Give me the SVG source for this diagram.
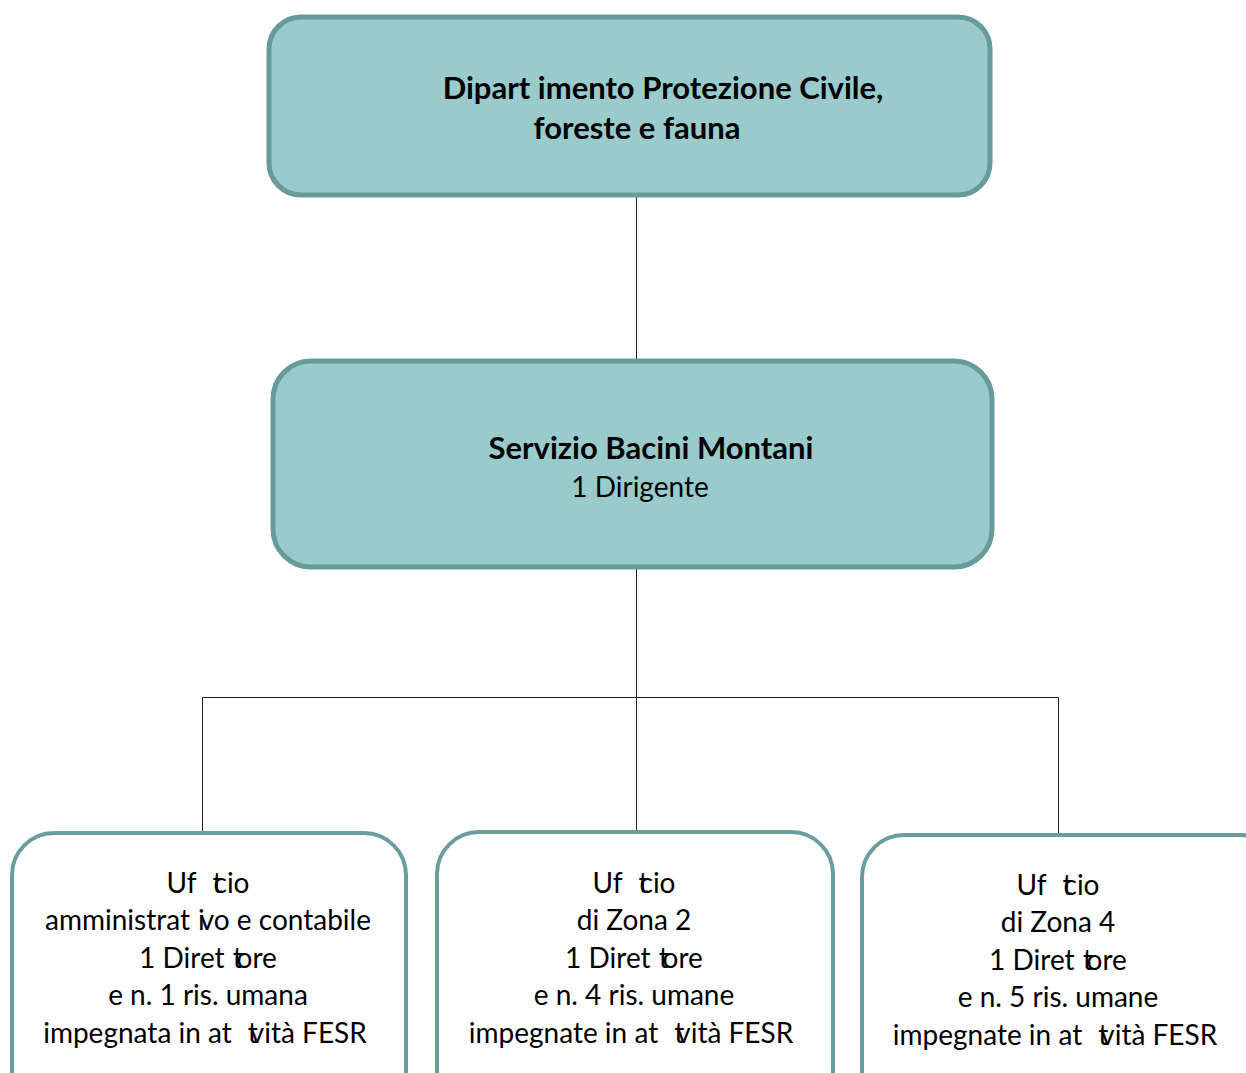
<svg xmlns="http://www.w3.org/2000/svg" width="1246" height="1073" viewBox="0 0 1246 1073">
<style>
.top{fill:#99cbcc;stroke:#679b9b;stroke-width:5}
.low{fill:#ffffff;stroke:#6a9e9e;stroke-width:4}
.b{font-family:Lato,"Liberation Sans",sans-serif;font-weight:bold;font-size:31px;fill:#000;text-anchor:middle;font-variant-ligatures:none}
.r{font-family:Lato,"Liberation Sans",sans-serif;font-size:28px;fill:#000;text-anchor:middle;font-variant-ligatures:none}
.c{fill:none;stroke:#222;stroke-width:1}
</style>
<rect width="1246" height="1073" fill="#fff"/>
<g id="connectors">
<line class="c" x1="636.5" y1="196" x2="636.5" y2="360"/>
<line class="c" x1="636.5" y1="568" x2="636.5" y2="833"/>
<polyline class="c" points="202.5,833 202.5,697.5 1058.5,697.5 1058.5,835"/>
</g>
<g id="dipartimento">
<rect class="top" x="269" y="17" width="721" height="178" rx="32"/>
<text class="b" x="663" y="99">Dipart imento Protezione Civile,</text>
<text class="b" x="637" y="139">foreste e fauna</text>
</g>
<g id="servizio">
<rect class="top" x="273" y="361" width="719" height="206" rx="38"/>
<text class="b" x="651" y="459">Servizio Bacini Montani</text>
<text class="r" x="640" y="497">1 Dirigente</text>
</g>
<g id="ufficio-amministrativo">
<rect class="low" x="12" y="833" width="394" height="280" rx="42"/>
<text class="r" x="208" y="893" dx="0 0 16 -9">Uftcio</text>
<text class="r" x="208" y="930" dx="0 0 0 0 0 0 0 0 0 0 0 8 -5">amministrativo e contabile</text>
<text class="r" x="208" y="968" dx="0 0 0 0 0 0 0 8 -6">1 Direttore</text>
<text class="r" x="208" y="1005">e n. 1 ris. umana</text>
<text class="r" x="205" y="1043" dx="0 0 0 0 0 0 0 0 0 0 0 0 0 0 0 16 -8">impegnata in attvità FESR</text>
</g>
<g id="ufficio-zona-2">
<rect class="low" x="437" y="832" width="396" height="280" rx="42"/>
<text class="r" x="634" y="893" dx="0 0 16 -9">Uftcio</text>
<text class="r" x="634" y="930">di Zona 2</text>
<text class="r" x="634" y="968" dx="0 0 0 0 0 0 0 8 -6">1 Direttore</text>
<text class="r" x="634" y="1005">e n. 4 ris. umane</text>
<text class="r" x="631" y="1043" dx="0 0 0 0 0 0 0 0 0 0 0 0 0 0 0 16 -8">impegnate in attvità FESR</text>
</g>
<g id="ufficio-zona-4">
<rect class="low" x="862" y="835" width="420" height="280" rx="42"/>
<text class="r" x="1058" y="895" dx="0 0 16 -9">Uftcio</text>
<text class="r" x="1058" y="932">di Zona 4</text>
<text class="r" x="1058" y="970" dx="0 0 0 0 0 0 0 8 -6">1 Direttore</text>
<text class="r" x="1058" y="1007">e n. 5 ris. umane</text>
<text class="r" x="1055" y="1045" dx="0 0 0 0 0 0 0 0 0 0 0 0 0 0 0 16 -8">impegnate in attvità FESR</text>
</g>
</svg>
